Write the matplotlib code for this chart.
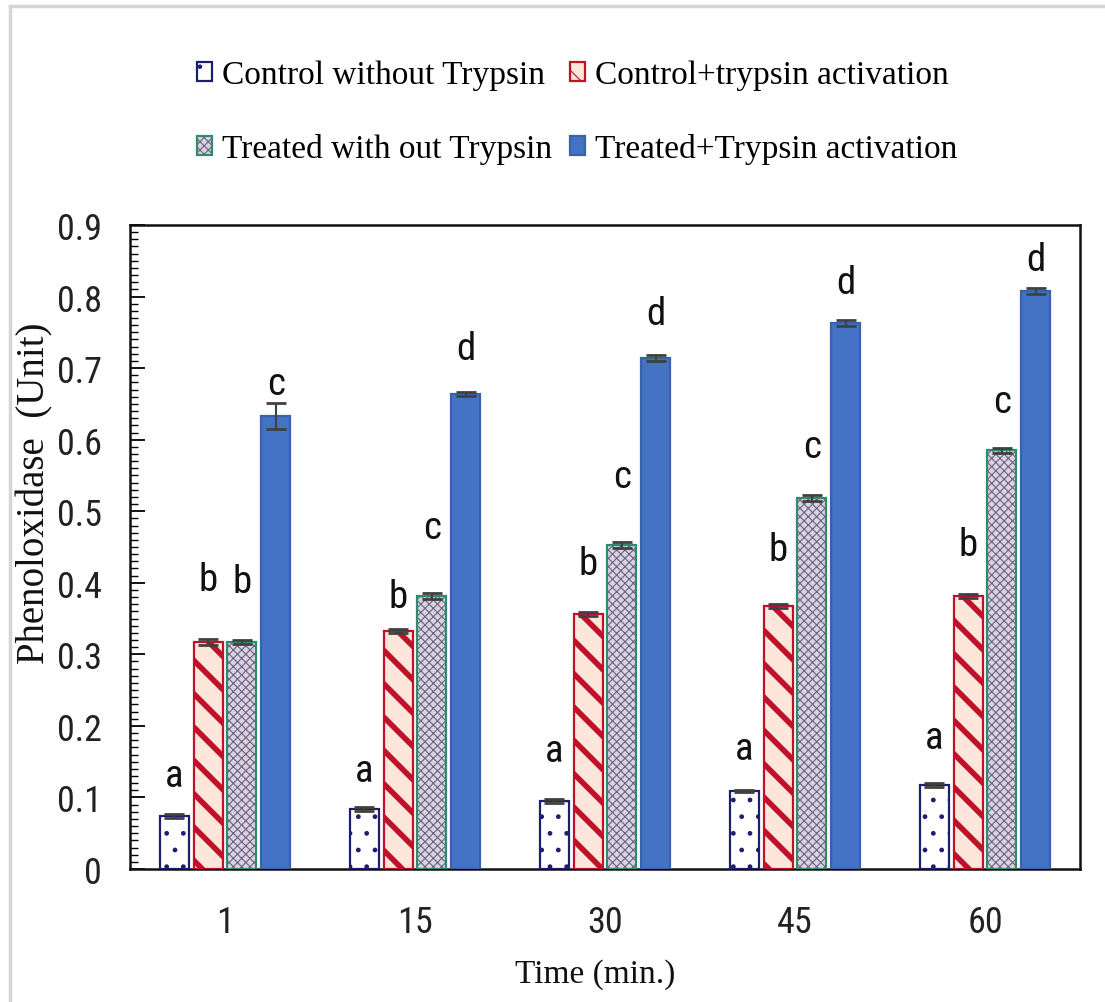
import matplotlib
matplotlib.use('Agg')
import matplotlib.pyplot as plt
import numpy as np
from matplotlib import font_manager
from matplotlib.patches import Patch
from matplotlib.lines import Line2D

# ---------------- data ----------------
times = ['1', '15', '30', '45', '60']
series_names = ['Control without Trypsin', 'Control+trypsin activation',
                'Treated with out Trypsin', 'Treated+Trypsin activation']
control = [0.074, 0.084, 0.095, 0.109, 0.117]
control_trypsin = [0.317, 0.333, 0.356, 0.368, 0.382]
treated = [0.317, 0.382, 0.453, 0.518, 0.585]
treated_trypsin = [0.633, 0.664, 0.714, 0.763, 0.808]
err_control = [0.003, 0.003, 0.003, 0.002, 0.003]
err_control_trypsin = [0.004, 0.003, 0.003, 0.003, 0.003]
err_treated = [0.003, 0.004, 0.004, 0.004, 0.003]
err_treated_trypsin = [0.018, 0.003, 0.004, 0.004, 0.004]
letters_control = ['a', 'a', 'a', 'a', 'a']
letters_control_trypsin = ['b', 'b', 'b', 'b', 'b']
letters_treated = ['b', 'c', 'c', 'c', 'c']
letters_treated_trypsin = ['c', 'd', 'd', 'd', 'd']
letter_y_control = [0.130, 0.138, 0.165, 0.169, 0.184]
letter_y_control_trypsin = [0.405, 0.381, 0.427, 0.446, 0.454]
letter_y_treated = [0.402, 0.477, 0.549, 0.590, 0.653]
letter_y_treated_trypsin = [0.678, 0.727, 0.776, 0.819, 0.852]

# ---------------- fonts ----------------
avail = {f.name for f in font_manager.fontManager.ttflist}
def pick(cands):
    for c in cands:
        if c in avail:
            return c
    return 'DejaVu Sans'
SANS = pick(['Liberation Sans Narrow', 'Roboto Condensed', 'DejaVu Sans Condensed', 'Liberation Sans'])
SERIF = pick(['Liberation Serif', 'DejaVu Serif'])

fig = plt.figure(figsize=(11.05, 10.03), dpi=100)
ax = fig.add_axes([130/1105, 1-870/1003, 950/1105, 644/1003])

x = np.arange(len(times))
step = 0.178
width = 0.153

styles = [
    dict(face='#FFFFFF', hatch='.', hcolor='#1C1F6E', edge='#1C1F6E', hlw=1.0),
    dict(face='#FFE6DA', hatch='\\', hcolor='#C0102A', edge='#C0102A', hlw=4.0),
    dict(face='#D9D3E0', hatch='xxxx', hcolor='#6C6283', edge='#2E8B6E', hlw=0.8),
    dict(face='#4472C4', hatch=None, hcolor='#4472C4', edge='#3A62A8', hlw=1.0),
]
values = [control, control_trypsin, treated, treated_trypsin]
errors = [err_control, err_control_trypsin, err_treated, err_treated_trypsin]
letters = [letters_control, letters_control_trypsin, letters_treated, letters_treated_trypsin]
letter_ys = [letter_y_control, letter_y_control_trypsin, letter_y_treated, letter_y_treated_trypsin]

handles = []
for i, (vals, errs, st) in enumerate(zip(values, errors, styles)):
    pos = x + (i - 1.5) * step
    if st['hatch']:
        matplotlib.rcParams['hatch.linewidth'] = st['hlw']
    bars = ax.bar(pos, vals, width, color=st['face'], hatch=st['hatch'],
                  edgecolor=st['hcolor'], linewidth=0, zorder=2)
    for b in bars:
        if hasattr(b, 'set_hatch_linewidth'):
            b.set_hatch_linewidth(st['hlw'])
    ax.bar(pos, vals, width, fill=False, edgecolor=st['edge'], linewidth=1.6, zorder=3)
    ax.errorbar(pos, vals, yerr=errs, fmt='none', ecolor='#404040', elinewidth=1.5,
                capsize=7, capthick=2, zorder=4)
    for xp, ly, lt in zip(pos, letter_ys[i], letters[i]):
        ax.text(xp, ly, lt, ha='center', va='center', fontsize=28,
                family=SANS, color='#111111', zorder=5)
    hp = Patch(facecolor=st['face'], hatch=st['hatch'], edgecolor=st['hcolor'], linewidth=0)
    if hasattr(hp, 'set_hatch_linewidth'):
        hp.set_hatch_linewidth(min(st['hlw'], 2.0))
    ho = Patch(fill=False, edgecolor=st['edge'], linewidth=1.6)
    handles.append((hp, ho))

ax.set_xlim(-0.5, 4.5)
ax.set_ylim(0, 0.9)
ax.set_xticks(x)
ax.set_xticklabels(times)
ax.set_yticks(np.arange(0, 0.91, 0.1))
ax.set_yticklabels(['0'] + ['%.1f' % v for v in np.arange(0.1, 0.91, 0.1)])
ax.set_yticks(np.arange(0, 0.9001, 0.01), minor=True)
tick_fs = 26
ax.tick_params(axis='x', length=0, pad=25, labelsize=tick_fs)
ax.tick_params(axis='y', which='major', direction='in', length=11, width=1.3, pad=20, labelsize=tick_fs)
ax.tick_params(axis='y', which='minor', direction='in', length=6, width=1.0)
for lab in ax.get_xticklabels() + ax.get_yticklabels():
    lab.set_family(SANS)
    lab.set_color('#222222')
for sp in ax.spines.values():
    sp.set_linewidth(1.8)
    sp.set_color('#111111')

ax.set_xlabel('Time (min.)', family=SERIF, fontsize=24, color='#111111')
ax.xaxis.set_label_coords(0.49, -0.138)
ax.set_ylabel('Phenoloxidase  (Unit)', family=SERIF, fontsize=28, color='#111111')
ax.yaxis.set_label_coords(-0.081, 0.585)

leg = fig.legend([handles[k] for k in [0, 2, 1, 3]],
                 [series_names[k] for k in [0, 2, 1, 3]],
                 ncol=2, loc='center left', bbox_to_anchor=(197/1105, 1-113/1003),
                 frameon=False, prop={'family': SERIF, 'size': 24},
                 borderpad=0, borderaxespad=0,
                 handlelength=0.45, handleheight=0.5, handletextpad=0.3,
                 columnspacing=0.55, labelspacing=1.3)

# light frame lines around the picture
fig.add_artist(Line2D([10/1105, 10/1105], [0, 1-7/1003], color='#D5D5D5', lw=2.5))
fig.add_artist(Line2D([10/1105, 1], [1-7/1003, 1-7/1003], color='#D5D5D5', lw=2.5))

fig.savefig('out.png', dpi=100, facecolor='white')
